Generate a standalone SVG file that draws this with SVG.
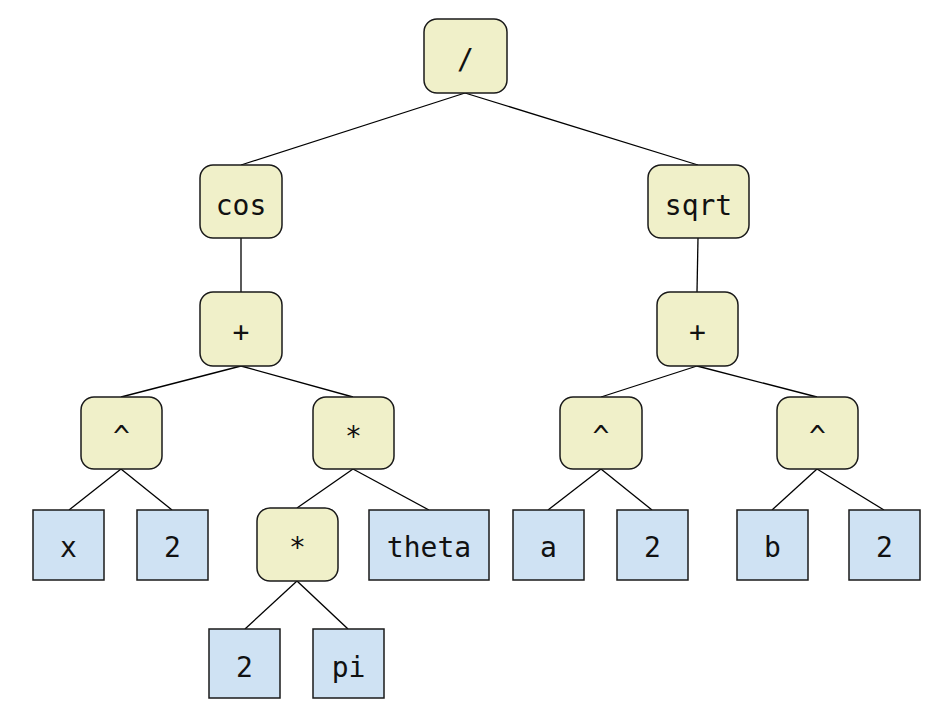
<svg xmlns="http://www.w3.org/2000/svg" width="950" height="719" viewBox="0 0 950 719">
<style>
.op{fill:#f0f0c9;stroke:#1a1a1a;stroke-width:1.5}
.lf{fill:#cfe2f3;stroke:#1a1a1a;stroke-width:1.5}
text{font-family:"DejaVu Sans Mono","Liberation Mono",monospace;font-size:28px;fill:#111;text-anchor:middle}
#edges line{stroke:#000;stroke-width:1.3}
</style>
<rect width="950" height="719" fill="#fff"/>
<g id="edges">
<line x1="465" y1="93" x2="241" y2="165"/>
<line x1="465" y1="93" x2="698" y2="165"/>
<line x1="241" y1="238" x2="241" y2="292"/>
<line x1="698" y1="238" x2="697" y2="292"/>
<line x1="241" y1="366" x2="121" y2="397"/>
<line x1="241" y1="366" x2="353" y2="397"/>
<line x1="697" y1="366" x2="601" y2="397"/>
<line x1="697" y1="366" x2="817" y2="397"/>
<line x1="121" y1="469" x2="69" y2="510"/>
<line x1="121" y1="469" x2="172" y2="510"/>
<line x1="353" y1="469" x2="297" y2="508"/>
<line x1="353" y1="469" x2="429" y2="510"/>
<line x1="601" y1="469" x2="548" y2="510"/>
<line x1="601" y1="469" x2="652" y2="510"/>
<line x1="817" y1="469" x2="772" y2="510"/>
<line x1="817" y1="469" x2="884" y2="510"/>
<line x1="297" y1="581" x2="245" y2="629"/>
<line x1="297" y1="581" x2="348" y2="629"/>
</g>
<g id="n_div"><rect class="op" x="424" y="19" width="83" height="74" rx="13"/><text x="465.5" y="69">/</text></g>
<g id="n_cos"><rect class="op" x="200" y="165" width="82" height="73" rx="13"/><text x="241" y="215">cos</text></g>
<g id="n_sqrt"><rect class="op" x="648" y="165" width="101" height="73" rx="13"/><text x="698.5" y="215">sqrt</text></g>
<g id="n_plus1"><rect class="op" x="200" y="292" width="82" height="74" rx="13"/><text x="241" y="342">+</text></g>
<g id="n_plus2"><rect class="op" x="657" y="292" width="81" height="74" rx="13"/><text x="697.5" y="342">+</text></g>
<g id="n_pow1"><rect class="op" x="81" y="397" width="81" height="72" rx="13"/><text x="121.5" y="446">^</text></g>
<g id="n_mul1"><rect class="op" x="313" y="397" width="81" height="72" rx="13"/><text x="353.5" y="446">*</text></g>
<g id="n_pow2"><rect class="op" x="560" y="397" width="82" height="72" rx="13"/><text x="601" y="446">^</text></g>
<g id="n_pow3"><rect class="op" x="777" y="397" width="81" height="72" rx="13"/><text x="817.5" y="446">^</text></g>
<g id="n_mul2"><rect class="op" x="257" y="508" width="81" height="73" rx="13"/><text x="297.5" y="557">*</text></g>
<g id="n_x"><rect class="lf" x="33" y="510" width="71" height="70"/><text x="68.5" y="557">x</text></g>
<g id="n_2a"><rect class="lf" x="137" y="510" width="71" height="70"/><text x="172.5" y="557">2</text></g>
<g id="n_theta"><rect class="lf" x="369" y="510" width="120" height="70"/><text x="429" y="557">theta</text></g>
<g id="n_a"><rect class="lf" x="513" y="510" width="71" height="70"/><text x="548.5" y="557">a</text></g>
<g id="n_2b"><rect class="lf" x="617" y="510" width="71" height="70"/><text x="652.5" y="557">2</text></g>
<g id="n_b"><rect class="lf" x="737" y="510" width="71" height="70"/><text x="772.5" y="557">b</text></g>
<g id="n_2c"><rect class="lf" x="849" y="510" width="71" height="70"/><text x="884.5" y="557">2</text></g>
<g id="n_2d"><rect class="lf" x="209" y="629" width="71" height="69"/><text x="244.5" y="677">2</text></g>
<g id="n_pi"><rect class="lf" x="313" y="629" width="71" height="69"/><text x="348.5" y="677">pi</text></g>
</svg>
